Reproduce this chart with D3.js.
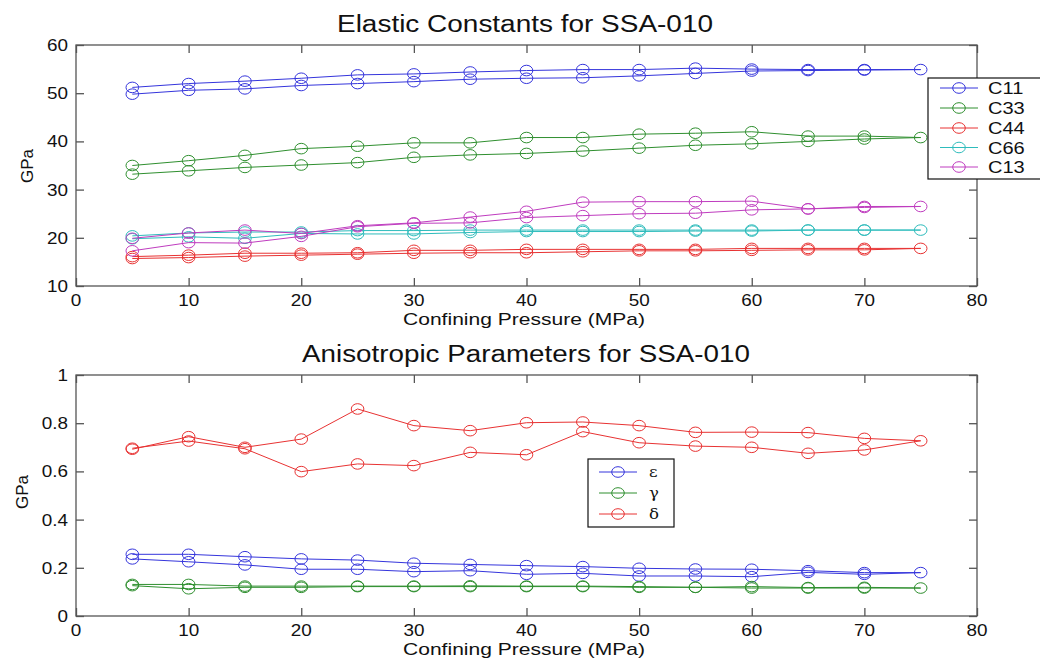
<!DOCTYPE html>
<html><head><meta charset="utf-8">
<script src="https://cdn.jsdelivr.net/npm/d3@7"></script>
<style>body{margin:0;background:#fff}svg{display:block}</style>
</head><body>
<svg id="chart" width="1040" height="659"></svg>
<script>
// ---------------- data ----------------
const pressureUp = [5,10,15,20,25,30,35,40,45,50,55,60,65,70,75];
const pressureDown = [70,65,60,55,50,45,40,35,30,25,20,15,10,5];
const xTicks = [0,10,20,30,40,50,60,70,80];
const topYTicks = [10,20,30,40,50,60];
const botYTicks = [0,0.2,0.4,0.6,0.8,1];
const botYTickLabels = ["0","0.2","0.4","0.6","0.8","1"];

const elasticNames = ["C11","C33","C44","C66","C13"];
const c11Up   = [51.2,52.0,52.5,53.1,53.8,54.0,54.4,54.7,54.9,54.9,55.2,55.0,54.9,54.9,54.9];
const c11Down = [54.8,54.7,54.6,54.1,53.6,53.2,53.1,52.9,52.4,52.0,51.6,50.9,50.6,49.8];
const c33Up   = [35.0,36.0,37.1,38.5,39.0,39.7,39.7,40.8,40.8,41.5,41.7,42.0,41.1,41.1,40.8];
const c33Down = [40.5,40.0,39.5,39.2,38.6,38.0,37.5,37.2,36.7,35.6,35.1,34.6,33.9,33.2];
const c44Up   = [16.1,16.4,16.8,16.8,16.9,17.4,17.4,17.6,17.6,17.6,17.6,17.8,17.8,17.8,17.8];
const c44Down = [17.5,17.5,17.4,17.3,17.3,17.1,16.9,16.9,16.8,16.6,16.4,16.2,15.9,15.7];
const c66Up   = [20.4,21.0,21.2,21.2,21.5,21.5,21.6,21.6,21.6,21.6,21.6,21.6,21.6,21.6,21.6];
const c66Down = [21.6,21.6,21.4,21.4,21.3,21.3,21.3,21.1,20.8,20.8,20.9,19.9,20.2,19.8];
const c13Up   = [19.9,21.0,21.6,20.9,22.5,23.1,24.3,25.5,27.4,27.5,27.5,27.6,26.0,26.5,26.5];
const c13Down = [26.3,26.0,25.8,25.1,25.0,24.6,24.2,23.1,23.0,22.3,20.3,18.9,19.0,17.3];

const anisoNames = ["\u03b5","\u03b3","\u03b4"];
const epsUp   = [0.256,0.256,0.246,0.237,0.232,0.219,0.214,0.209,0.205,0.198,0.195,0.194,0.188,0.180,0.180];
const epsDown = [0.173,0.181,0.163,0.166,0.166,0.177,0.173,0.188,0.184,0.194,0.194,0.212,0.225,0.237];
const gamUp   = [0.131,0.131,0.124,0.124,0.124,0.124,0.125,0.124,0.124,0.122,0.119,0.122,0.118,0.119,0.116];
const gamDown = [0.116,0.116,0.116,0.119,0.119,0.122,0.122,0.122,0.122,0.122,0.119,0.119,0.113,0.126];
const delUp   = [0.692,0.744,0.700,0.734,0.859,0.790,0.769,0.802,0.805,0.790,0.762,0.763,0.761,0.737,0.727];
const delDown = [0.689,0.675,0.700,0.705,0.719,0.765,0.669,0.679,0.624,0.631,0.599,0.694,0.726,0.696];

const colors = {blue:"#3535dc", green:"#2f8f2f", red:"#e83232", cyan:"#2ebcbc", magenta:"#bf3cbf"};

// ---------------- helpers ----------------
const svg = d3.select("#chart");
const SX = 1.18;
const FONT = "'Liberation Sans', Arial, sans-serif";

function label(x, y, txt, size, anchor, opts) {
  opts = opts || {};
  const t = svg.append("text")
    .attr("transform", `translate(${x},${y})` + (opts.rotate ? ` rotate(${opts.rotate})` : "") + (opts.noScale ? "" : ` scale(${SX},1)`))
    .attr("text-anchor", anchor)
    .attr("font-family", opts.font || FONT)
    .attr("font-size", size)
    .attr("fill", "#111")
    .text(txt);
  if (opts.len) t.attr("transform", `translate(${x},${y})`).attr("textLength", opts.len).attr("lengthAdjust", "spacingAndGlyphs");
  return t;
}

function makeSeries(up, down) {
  const pts = pressureUp.map((p, i) => ({x: p, y: up[i]}));
  pressureDown.forEach((p, i) => pts.push({x: p, y: down[i]}));
  return pts;
}

function panel(cfg) {
  const {left, right, top, bottom, yDomain, yTicks, yTickLabels, series} = cfg;
  const x = d3.scaleLinear().domain([0, 80]).range([left, right]);
  const y = d3.scaleLinear().domain(yDomain).range([bottom, top]);
  const g = svg.append("g");
  const frame = "#555";
  const tl = 8;

  g.append("rect").attr("x", left).attr("y", top).attr("width", right - left).attr("height", bottom - top)
    .attr("fill", "none").attr("stroke", frame).attr("stroke-width", 1.3);

  g.append("g").attr("transform", `translate(0,${bottom})`).call(d3.axisBottom(x).tickValues(xTicks).tickSize(-tl).tickFormat(""));
  g.append("g").attr("transform", `translate(0,${top})`).call(d3.axisTop(x).tickValues(xTicks).tickSize(-tl).tickFormat(""));
  g.append("g").attr("transform", `translate(${left},0)`).call(d3.axisLeft(y).tickValues(yTicks).tickSize(-tl).tickFormat(""));
  g.append("g").attr("transform", `translate(${right},0)`).call(d3.axisRight(y).tickValues(yTicks).tickSize(-tl).tickFormat(""));
  g.selectAll(".domain").remove();
  g.selectAll(".tick line").attr("stroke", frame).attr("stroke-width", 1.3);

  xTicks.forEach(v => label(x(v), bottom + 20, String(v), 16, "middle"));
  yTicks.forEach((v, i) => label(68, y(v) + 6, yTickLabels ? yTickLabels[i] : String(v), 16, "end"));

  const line = d3.line().x(d => x(d.x)).y(d => y(d.y));
  series.forEach(s => {
    g.append("path").datum(s.pts).attr("d", line).attr("fill", "none")
      .attr("stroke", s.color).attr("stroke-width", 1);
    g.selectAll(null).data(s.pts).enter().append("ellipse")
      .attr("cx", d => x(d.x)).attr("cy", d => y(d.y)).attr("rx", 6.3).attr("ry", 5.3)
      .attr("fill", "none").attr("stroke", s.color).attr("stroke-width", 1);
  });
  return {x, y};
}

// ---------------- top panel ----------------
const topSeries = [
  {name: elasticNames[0], color: colors.blue, pts: makeSeries(c11Up, c11Down)},
  {name: elasticNames[1], color: colors.green, pts: makeSeries(c33Up, c33Down)},
  {name: elasticNames[2], color: colors.red, pts: makeSeries(c44Up, c44Down)},
  {name: elasticNames[3], color: colors.cyan, pts: makeSeries(c66Up, c66Down)},
  {name: elasticNames[4], color: colors.magenta, pts: makeSeries(c13Up, c13Down)},
];
panel({left: 76, right: 977, top: 45, bottom: 286, yDomain: [10, 60], yTicks: topYTicks, series: topSeries});

label(525, 32, "Elastic Constants for SSA-010", 23, "middle", {len: 376});
label(524, 325, "Confining Pressure (MPa)", 17, "middle", {len: 242});
label(33, 166, "GPa", 17, "middle", {rotate: -90, noScale: true});

// ---------------- bottom panel ----------------
const botSeries = [
  {name: anisoNames[0], color: colors.blue, pts: makeSeries(epsUp, epsDown)},
  {name: anisoNames[1], color: colors.green, pts: makeSeries(gamUp, gamDown)},
  {name: anisoNames[2], color: colors.red, pts: makeSeries(delUp, delDown)},
];
panel({left: 76, right: 977, top: 375, bottom: 616, yDomain: [0, 1], yTicks: botYTicks, yTickLabels: botYTickLabels, series: botSeries});

label(526, 362, "Anisotropic Parameters for SSA-010", 23, "middle", {len: 448});
label(524, 655, "Confining Pressure (MPa)", 17, "middle", {len: 242});
label(28, 492, "GPa", 17, "middle", {rotate: -90, noScale: true});

// ---------------- legends ----------------
function legend(box, rows, items, lineX0, lineX1, textX, fontSize, font) {
  svg.append("rect").attr("x", box[0]).attr("y", box[1]).attr("width", box[2]).attr("height", box[3])
    .attr("fill", "#fff").attr("stroke", "#111").attr("stroke-width", 1.2);
  items.forEach((s, i) => {
    const yy = rows[i];
    svg.append("line").attr("x1", lineX0).attr("x2", lineX1).attr("y1", yy).attr("y2", yy)
      .attr("stroke", s.color).attr("stroke-width", 1);
    svg.append("ellipse").attr("cx", (lineX0 + lineX1) / 2).attr("cy", yy).attr("rx", 6.3).attr("ry", 5.3)
      .attr("fill", "none").attr("stroke", s.color).attr("stroke-width", 1);
    label(textX, yy + fontSize * 0.36, s.name, fontSize, "start", {font: font});
  });
}
legend([928, 78, 120, 101], [88, 108, 128, 147.5, 167], topSeries, 940, 978, 988, 17);
legend([588, 459, 86, 68], [472, 493, 514], botSeries, 599, 637, 649, 14, "'DejaVu Serif', serif");
</script>
</body></html>
